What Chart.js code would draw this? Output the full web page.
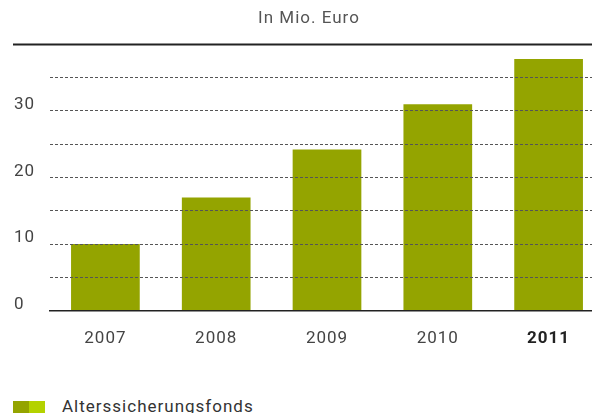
<!DOCTYPE html>
<html lang="de">
<head>
    <meta charset="UTF-8">
    <title>Alterssicherungsfonds</title>
    <style>
        body {
            margin: 0;
            background: #fff;
            overflow: hidden;
            font-family: Roboto, Arial, sans-serif;
        }
        .wrap {
            position: relative;
            width: 592px;
            height: 413px;
            overflow: hidden;
        }
        canvas {
            position: absolute;
            left: 0;
            top: 0;
        }
        .legend {
            position: absolute;
            left: 13px;
            top: 396px;
            display: flex;
            align-items: flex-start;
            color: #333;
            font-size: 17px;
            letter-spacing: 1px;
        }
        .legend .box {
            display: inline-block;
            width: 16px;
            height: 12px;
            margin-top: 5px;
        }
        .legend .label {
            margin-left: 17px;
        }
    </style>
    <script src="https://cdn.jsdelivr.net/npm/chart.js"></script>
</head>
<body>

<div class="wrap">
    <canvas id="barChart" width="614" height="380"></canvas>
    <div class="legend">
        <span class="box" style="background:#94a400"></span><span class="box" style="background:#b4d200"></span>
        <span class="label">Alterssicherungsfonds</span>
    </div>
</div>

<script>
    const years = ['2007', '2008', '2009', '2010', '2011'];
    const values = [10, 17, 24.2, 31, 37.8];
    const yTicks = [0, 10, 20, 30];

    // slightly spaced lettering, like the print original
    const spacing = {
        id: 'spacing',
        beforeDraw(chart) {
            chart.ctx.letterSpacing = '1px';
        }
    };

    // black rule along the top of the plot
    const topRule = {
        id: 'topRule',
        afterDraw(chart) {
            const ctx = chart.ctx;
            const y = chart.chartArea.top;
            ctx.save();
            ctx.strokeStyle = '#222';
            ctx.lineWidth = 2;
            ctx.beginPath();
            ctx.moveTo(13, y);
            ctx.lineTo(chart.width, y);
            ctx.stroke();
            ctx.restore();
        }
    };

    const ctx = document.getElementById('barChart').getContext('2d');
    const chart = new Chart(ctx, {
        type: 'bar',
        data: {
            labels: years,
            datasets: [{
                label: 'Alterssicherungsfonds',
                data: values,
                backgroundColor: '#94a400',
                barPercentage: 0.62,
                categoryPercentage: 1
            }]
        },
        options: {
            responsive: false,
            animation: false,
            layout: {
                padding: { left: 14, right: 10, top: 0, bottom: 21 }
            },
            plugins: {
                legend: { display: false },
                tooltip: { enabled: false },
                title: {
                    display: true,
                    text: 'In Mio. Euro',
                    color: '#555',
                    font: { family: 'Roboto', size: 17, weight: 'normal' },
                    padding: { top: 9, bottom: 15 }
                }
            },
            scales: {
                x: {
                    grid: { display: false },
                    border: { display: true, color: '#222', width: 1.5 },
                    ticks: {
                        padding: 10,
                        font: (c) => ({
                            family: 'Roboto',
                            size: 17,
                            weight: c.index === years.length - 1 ? 'bold' : 'normal'
                        }),
                        color: (c) => c.index === years.length - 1 ? '#222' : '#444'
                    }
                },
                y: {
                    min: 0,
                    max: 40,
                    afterFit: (scale) => { scale.width = 36; },
                    grid: {
                        z: 1,
                        drawTicks: false,
                        lineWidth: 1,
                        color: (c) => (c.tick.value === 0 || c.tick.value === 40) ? 'rgba(0,0,0,0)' : '#555'
                    },
                    border: { display: false, dash: [3, 2] },
                    ticks: {
                        stepSize: 5,
                        crossAlign: 'far',
                        labelOffset: -6,
                        color: '#444',
                        font: { family: 'Roboto', size: 17 },
                        callback: (v) => yTicks.includes(v) ? String(v) : ''
                    }
                }
            }
        },
        plugins: [spacing, topRule]
    });
</script>

</body>
</html>
